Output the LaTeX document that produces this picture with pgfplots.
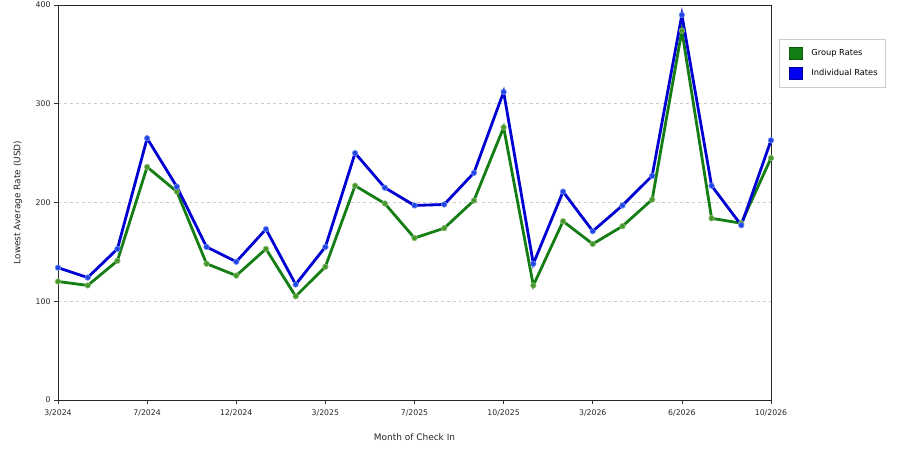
\documentclass[border=0pt]{standalone}
\usepackage{fontspec}
\setmainfont{DejaVu Sans}
\setsansfont{DejaVu Sans}
\usepackage{pgfplots}
\pgfplotsset{compat=1.18}
\definecolor{grp}{RGB}{20,125,20}
\definecolor{grpm}{RGB}{70,150,40}
\definecolor{ind}{RGB}{0,0,210}
\definecolor{indm}{RGB}{30,70,230}
\begin{document}
\begin{tikzpicture}
\path[use as bounding box] (0,0) rectangle (900bp,450bp);
\begin{axis}[
  at={(58bp,50bp)}, anchor=origin,
  scale only axis, width=713bp, height=395bp,
  xmin=0, xmax=24, ymin=0, ymax=400,
  xtick={0,3,6,9,12,15,18,21,24},
  xticklabels={3/2024,7/2024,12/2024,3/2025,7/2025,10/2025,3/2026,6/2026,10/2026},
  ytick={0,100,200,300,400},
  tick align=outside, tick pos=left,
  major tick length=4bp,
  tick style={black!80, line width=0.6bp},
  axis line style={black!85, line width=0.8bp},
  ymajorgrids, grid style={dashed, black!20, line width=0.5bp},
  ticklabel style={font=\fontsize{7.8}{9}\selectfont, text=black!85},
  xticklabel style={yshift=-2bp},
  /pgf/number format/assume math mode=true,
  xlabel={Month of Check In}, ylabel={Lowest Average Rate (USD)},
  label style={font=\fontsize{9}{10}\selectfont, text=black!85},
  xlabel style={at={(axis description cs:0.5,-0.0937)}, anchor=center},
  ylabel style={at={(axis description cs:-0.0561,0.5)}, anchor=center},
  legend style={at={(axis description cs:1.0112,0.914)}, anchor=north west,
    draw=black!20, line width=0.8bp, font=\fontsize{8.3}{9}\selectfont,
    row sep=7bp, inner xsep=6bp, inner ysep=8bp},
  legend cell align=left,
  clip=false,
]
\addplot[grp, line width=2.8bp, mark=*, mark size=2.8bp, mark options={fill=grpm, draw=grpm!60!white, line width=0.6bp}, legend image code/.code={\path[fill=grp, draw=grp!70!black, line width=0.4bp] (4bp,-6bp) rectangle (17bp,6bp); \path[draw=none, fill=none] (0bp,0bp) -- (24bp,0bp);}] coordinates {
(0,120)(1,116)(2,141)(3,236)(4,211)(5,138)(6,126)(7,153)(8,105)(9,135)(10,217)(11,199)(12,164)(13,174)(14,202)(15,276)(16,116)(17,181)(18,158)(19,176)(20,203)(21,374)(22,184)(23,179)(24,245)};
\addlegendentry{Group Rates}
\addplot[ind, line width=2.8bp, mark=*, mark size=2.8bp, mark options={fill=indm, draw=indm!60!white, line width=0.6bp}, legend image code/.code={\path[fill=blue!95!black, draw=blue!60!black, line width=0.4bp] (4bp,-6bp) rectangle (17bp,6bp); \path[draw=none, fill=none] (0bp,0bp) -- (24bp,0bp);}] coordinates {
(0,134)(1,124)(2,153)(3,265)(4,216)(5,155)(6,140)(7,173)(8,117)(9,155)(10,250)(11,215)(12,197)(13,198)(14,230)(15,312)(16,138)(17,211)(18,171)(19,197)(20,227)(21,390)(22,217)(23,177)(24,263)};
\addlegendentry{Individual Rates\hspace{10bp}}
\end{axis}
\end{tikzpicture}
\end{document}
